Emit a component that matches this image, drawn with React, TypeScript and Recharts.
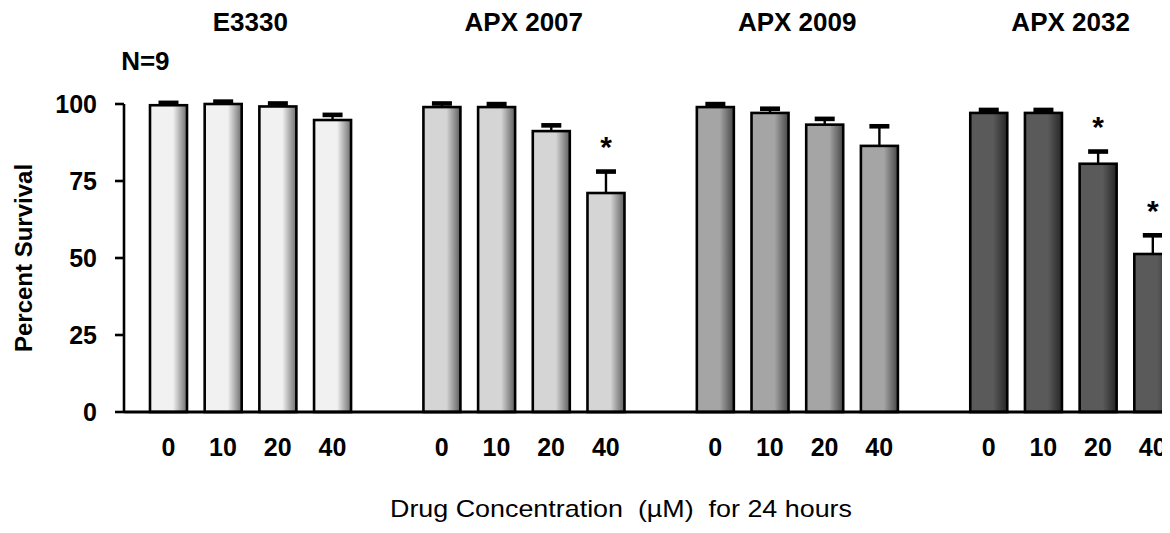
import React from "react";
import { ComposedChart, Bar, XAxis, YAxis, Label } from "recharts";

const groupNames = ["E3330", "APX 2007", "APX 2009", "APX 2032"];
const concentrations = ["0", "10", "20", "40"];
const survivalE3330 = [99.6, 100.0, 99.2, 94.8];
const survivalAPX2007 = [99.0, 99.0, 91.2, 71.1];
const survivalAPX2009 = [99.0, 97.1, 93.3, 86.4];
const survivalAPX2032 = [97.1, 97.1, 80.6, 51.3];
const errE3330 = [0.8, 0.8, 1.0, 1.7];
const errAPX2007 = [1.2, 1.0, 1.9, 7.0];
const errAPX2009 = [1.0, 1.4, 1.9, 6.4];
const errAPX2032 = [1.0, 1.0, 4.0, 6.1];
const sigE3330 = [false, false, false, false];
const sigAPX2007 = [false, false, false, true];
const sigAPX2009 = [false, false, false, false];
const sigAPX2032 = [false, false, true, true];
const groupFills = ["#f1f1f1", "#d5d5d5", "#a5a5a5", "#5a5a5a"];
const groupShades = ["#6e6e6e", "#5e5e5e", "#474747", "#262626"];
const yTicks = [0, 25, 50, 75, 100];
const sampleSizeLabel = "N=9";
const xAxisTitle = "Drug Concentration  (\u00b5M)  for 24 hours";
const yAxisTitle = "Percent Survival";

const survivalByGroup = [survivalE3330, survivalAPX2007, survivalAPX2009, survivalAPX2032];
const errByGroup = [errE3330, errAPX2007, errAPX2009, errAPX2032];
const sigByGroup = [sigE3330, sigAPX2007, sigAPX2009, sigAPX2032];

type Row = {
  key: string;
  conc: string;
  group: number;
  value: number | null;
  err: number;
  sig: boolean;
  title: string;
};

const rows: Row[] = [];
groupNames.forEach((g, gi) => {
  if (gi > 0) {
    rows.push({ key: `gap-${gi}`, conc: "", group: gi, value: null, err: 0, sig: false, title: "" });
  }
  concentrations.forEach((c, ci) => {
    rows.push({
      key: `${g}-${c}`,
      conc: c,
      group: gi,
      value: survivalByGroup[gi][ci],
      err: errByGroup[gi][ci],
      sig: sigByGroup[gi][ci],
      title: ci === 1 ? g : "",
    });
  });
});

const FONT = "'Liberation Sans', Arial, Helvetica, sans-serif";

function SurvivalBar(props: any) {
  const { x, y, width, height, payload } = props;
  if (!payload || payload.value == null || !height) return null;
  const pxPerUnit = height / payload.value;
  const errTop = y - payload.err * pxPerUnit;
  const cx = x + width / 2;
  return (
    <g>
      <rect
        x={x}
        y={y}
        width={width}
        height={height}
        fill={`url(#barGrad${payload.group})`}
        stroke="#000"
        strokeWidth={2.6}
      />
      <line x1={cx} x2={cx} y1={y} y2={errTop} stroke="#000" strokeWidth={2.4} />
      <rect x={cx - 10} y={errTop - 2.2} width={20} height={4.6} fill="#000" />
      {payload.sig ? (
        <text
          x={cx}
          y={errTop - 14}
          textAnchor="middle"
          fontFamily={FONT}
          fontWeight="bold"
          fontSize={30}
          fill="#000"
        >
          *
        </text>
      ) : null}
    </g>
  );
}

function BottomTick(props: any) {
  const { x, y, payload, index } = props;
  const row = rows[index];
  const half = payload && typeof payload.offset === "number" && payload.offset > 0 ? payload.offset : 27.35;
  return (
    <g>
      {row && row.conc ? (
        <text
          x={x}
          y={y}
          dy="0.71em"
          textAnchor="middle"
          fontFamily={FONT}
          fontWeight="bold"
          fontSize={25}
          fill="#000"
        >
          {row.conc}
        </text>
      ) : null}
      {row && row.title ? (
        <text
          x={x + half}
          y={23}
          textAnchor="middle"
          fontFamily={FONT}
          fontWeight="bold"
          fontSize={26}
          fill="#000"
        >
          {row.title}
        </text>
      ) : null}
      {index === 0 ? (
        <text
          x={x - 23}
          y={62}
          textAnchor="middle"
          fontFamily={FONT}
          fontWeight="bold"
          fontSize={26}
          fill="#000"
        >
          {sampleSizeLabel}
        </text>
      ) : null}
    </g>
  );
}

export default function App() {
  return (
    <div style={{ width: 1162, height: 525, overflow: "hidden", background: "#fff" }}>
      <ComposedChart
        width={1200}
        height={525}
        data={rows}
        margin={{ top: 96, right: 28, bottom: 0, left: 0 }}
      >
        <defs>
          {groupFills.map((c, i) => (
            <linearGradient key={i} id={`barGrad${i}`} x1="0" y1="0" x2="1" y2="0">
              <stop offset="0%" stopColor={c} />
              <stop offset="62%" stopColor={c} />
              <stop offset="100%" stopColor={groupShades[i]} />
            </linearGradient>
          ))}
        </defs>
        <XAxis
          dataKey="key"
          type="category"
          interval={0}
          height={121}
          padding={{ left: 17, right: 0 }}
          axisLine={{ stroke: "#000", strokeWidth: 3 }}
          tickLine={false}
          tickSize={0}
          tickMargin={26}
          tick={(p: any) => <BottomTick {...p} />}
        >
          <Label
            content={() => (
              <text
                x={613}
                y={509}
                textAnchor="middle"
                fontFamily={FONT}
                fontSize={24}
                fill="#000"
                textLength={462}
                lengthAdjust="spacingAndGlyphs"
                style={{ whiteSpace: "pre" }}
              >
                {xAxisTitle}
              </text>
            )}
          />
        </XAxis>
        <YAxis
          type="number"
          domain={[0, 100]}
          ticks={yTicks}
          width={116}
          interval={0}
          axisLine={{ stroke: "#000", strokeWidth: 2.6 }}
          tickLine={{ stroke: "#000", strokeWidth: 2.6 }}
          tickSize={9}
          tickMargin={18}
          tick={{ fontFamily: FONT, fontWeight: "bold", fontSize: 25, fill: "#000" }}
        >
          <Label
            content={(lp: any) => {
              const vb = lp.viewBox || { y: 96, height: 308 };
              const cy = vb.y + vb.height / 2;
              return (
                <text
                  x={15}
                  y={cy}
                  transform={`rotate(-90 15 ${cy})`}
                  textAnchor="middle"
                  dominantBaseline="central"
                  fontFamily={FONT}
                  fontWeight="bold"
                  fontSize={24}
                  fill="#000"
                >
                  {yAxisTitle}
                </text>
              );
            }}
          />
        </YAxis>
        <Bar
          dataKey="value"
          barSize={37}
          isAnimationActive={false}
          shape={(p: any) => <SurvivalBar {...p} />}
        />
      </ComposedChart>
    </div>
  );
}
